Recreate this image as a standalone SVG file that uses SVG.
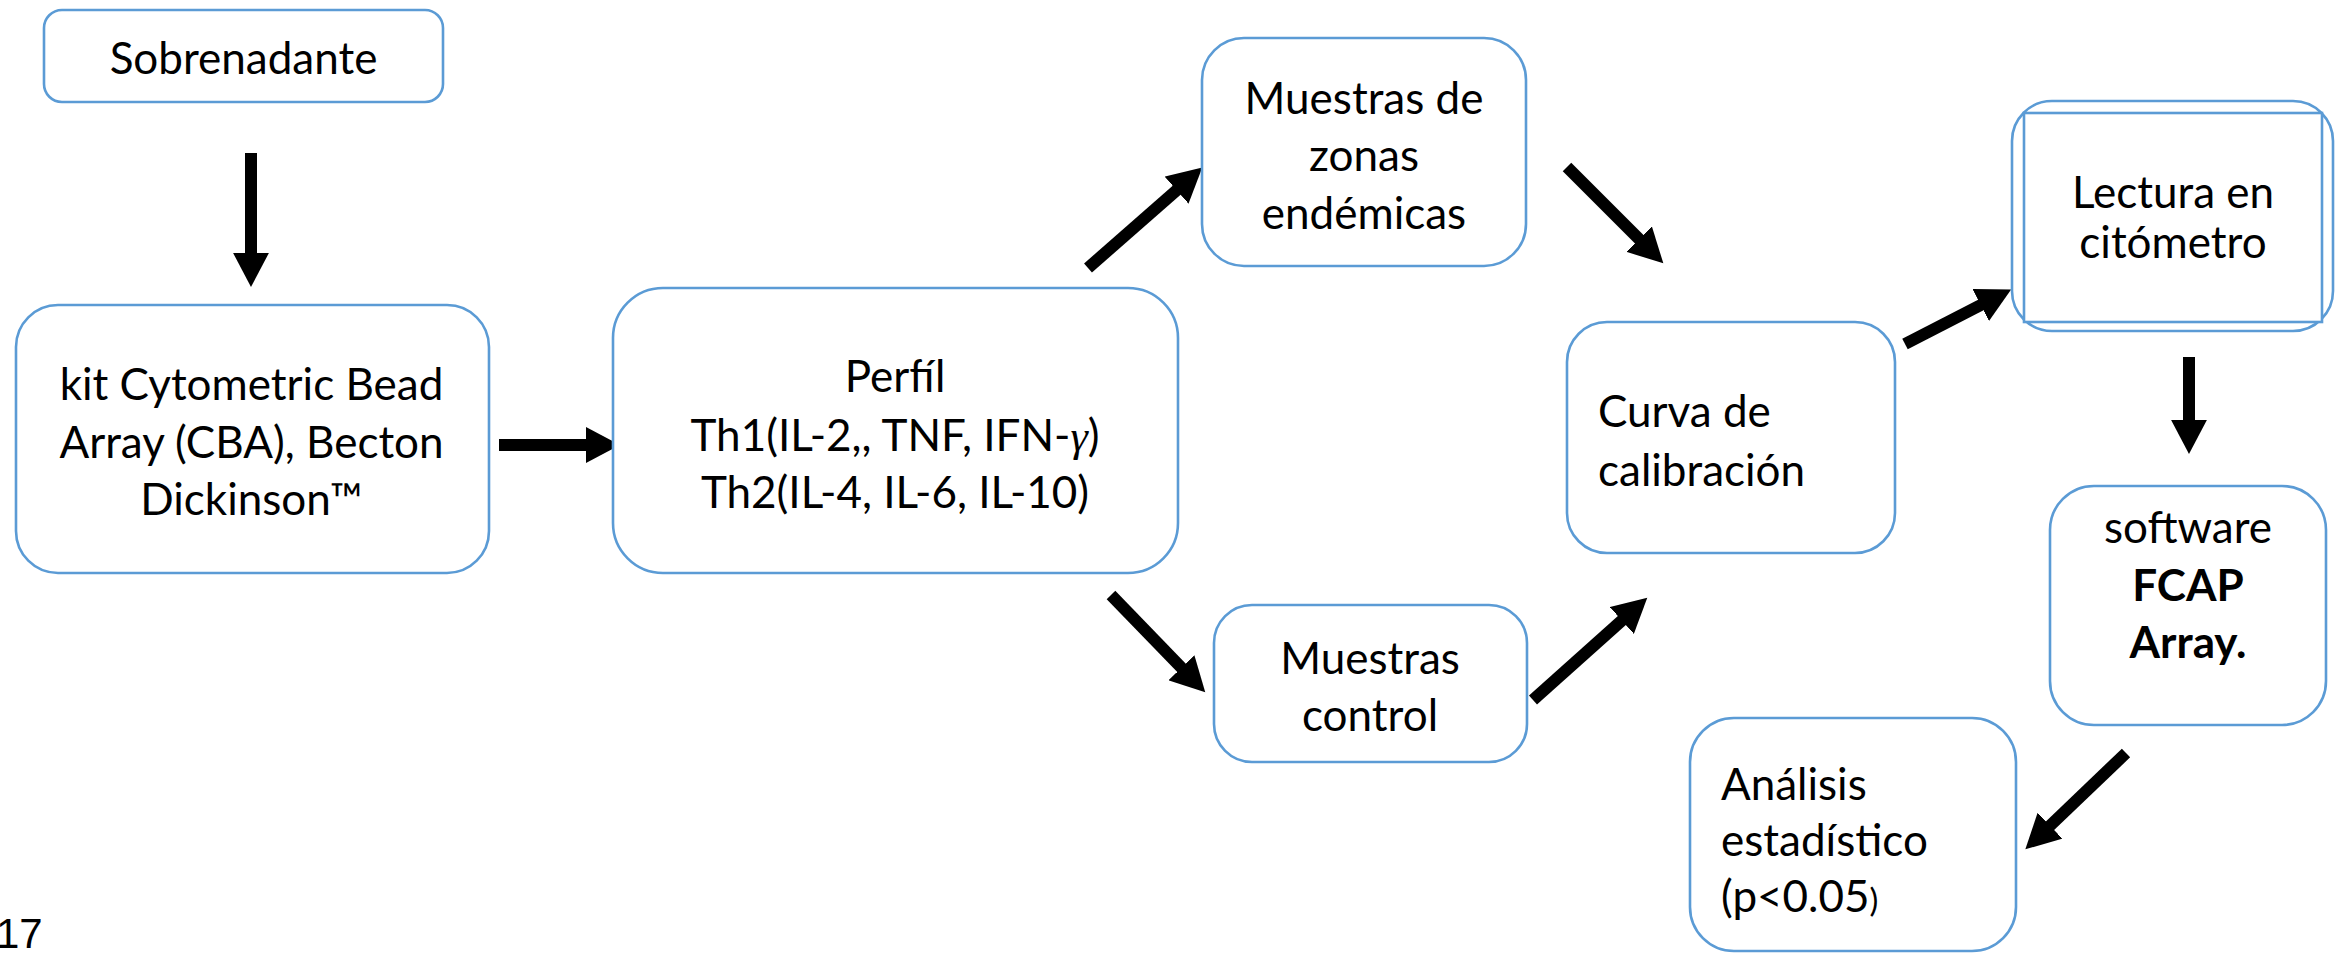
<svg xmlns="http://www.w3.org/2000/svg" width="2341" height="953" viewBox="0 0 2341 953">
<style>
.box{fill:#fff;stroke:#5B9BD5;stroke-width:2.6}
.t{font-family:Lato,"Noto Sans",sans-serif;font-size:44px;fill:#000}
.c{text-anchor:middle}
.b{font-weight:bold}
.arr{stroke:#000;stroke-width:12;fill:none;marker-end:url(#ah)}
</style>
<defs>
<marker id="ah" viewBox="0 0 3 3" refX="0.1" refY="1.5" markerWidth="3" markerHeight="3" markerUnits="strokeWidth" orient="auto">
<path d="M0,0 L2.85,1.5 L0,3 z" fill="#000"/>
</marker>
</defs>
<rect width="2341" height="953" fill="#fff"/>
<g id="connectors">
<line class="arr" x1="251" y1="153" x2="251" y2="254"/>
<line class="arr" x1="499" y1="445" x2="587" y2="445"/>
<line class="arr" x1="1088" y1="268" x2="1177.5" y2="189.4"/>
<line class="arr" x1="1111" y1="595" x2="1182.3" y2="668.6"/>
<line class="arr" x1="1567" y1="167" x2="1640" y2="240"/>
<line class="arr" x1="1533" y1="700" x2="1622.7" y2="619.7"/>
<line class="arr" x1="1905" y1="344" x2="1981.8" y2="304.5"/>
<line class="arr" x1="2189" y1="357" x2="2189" y2="421"/>
<line class="arr" x1="2126" y1="753" x2="2049.2" y2="826.5"/>
</g>
<g id="sobrenadante">
<rect class="box" x="44" y="10" width="399" height="92" rx="18"/>
<text class="t c" x="243.5" y="73.5">Sobrenadante</text>
</g>
<g id="kit">
<rect class="box" x="16" y="305" width="473" height="268" rx="42"/>
<text class="t c" x="251.5" y="400">kit Cytometric Bead</text>
<text class="t c" x="251.5" y="458">Array (CBA), Becton</text>
<text class="t c" x="251.5" y="515">Dickinson™</text>
</g>
<g id="perfil">
<rect class="box" x="613" y="288" width="565" height="285" rx="50"/>
<text class="t c" x="895" y="392">Perfíl</text>
<text class="t c" x="895" y="451">Th1(IL-2,, TNF, IFN-<tspan font-family="Liberation Serif, serif" font-style="italic">γ</tspan>)</text>
<text class="t c" x="895" y="508">Th2(IL-4, IL-6, IL-10)</text>
</g>
<g id="zonas">
<rect class="box" x="1202" y="38" width="324" height="228" rx="42"/>
<text class="t c" x="1364" y="114">Muestras de</text>
<text class="t c" x="1364" y="171">zonas</text>
<text class="t c" x="1364" y="229">endémicas</text>
</g>
<g id="control">
<rect class="box" x="1214" y="605" width="313" height="157" rx="38"/>
<text class="t c" x="1370" y="674">Muestras</text>
<text class="t c" x="1370" y="731">control</text>
</g>
<g id="curva">
<rect class="box" x="1567" y="322" width="328" height="231" rx="40"/>
<text class="t" x="1598" y="427">Curva de</text>
<text class="t" x="1598" y="486">calibración</text>
</g>
<g id="lectura">
<rect class="box" x="2012" y="101" width="321" height="230" rx="40"/>
<rect class="box" x="2024" y="113" width="298" height="209" fill="none"/>
<text class="t c" x="2173" y="208">Lectura en</text>
<text class="t c" x="2173" y="258">citómetro</text>
</g>
<g id="software">
<rect class="box" x="2050" y="486" width="276" height="239" rx="44"/>
<text class="t c" x="2188" y="543">software</text>
<text class="t c b" x="2188" y="601">FCAP</text>
<text class="t c b" x="2188" y="658">Array.</text>
</g>
<g id="analisis">
<rect class="box" x="1690" y="718" width="326" height="233" rx="44"/>
<text class="t" x="1721" y="800">Análisis</text>
<text class="t" x="1721" y="856">estadístico</text>
<text class="t" x="1721" y="912">(p&lt;0.05<tspan font-size="33">)</tspan></text>
</g>
<text x="-4" y="948" font-family="Liberation Sans Narrow, Liberation Sans, sans-serif" font-size="42">17</text>
</svg>
